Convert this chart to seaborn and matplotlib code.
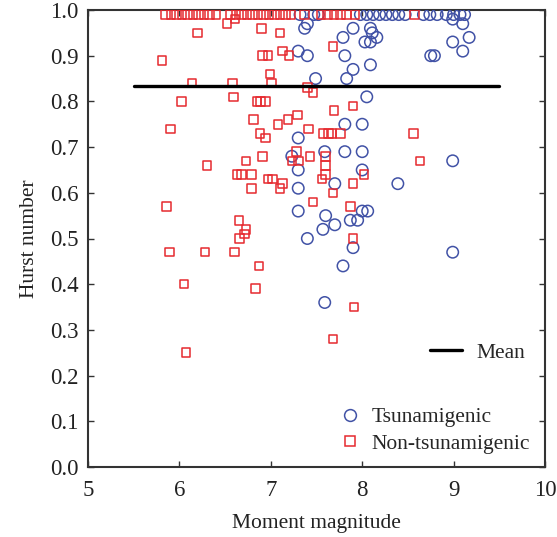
import matplotlib
matplotlib.use("Agg")
import matplotlib.pyplot as plt
import seaborn as sns
import pandas as pd
from matplotlib.lines import Line2D

# ---- data ----
tsu_mag = [7.32, 7.47, 7.52, 7.98, 8.05, 8.12, 8.19, 8.26, 8.33, 8.40, 8.47,
           8.67, 8.74, 8.82, 8.92, 9.00, 9.07, 9.12,
           7.40, 7.37, 7.90, 8.09, 8.11, 7.79, 8.16, 8.03, 8.09, 7.30, 7.40, 7.81,
           7.90, 8.09, 7.83, 7.49, 8.05, 8.99, 9.10, 8.99, 9.17, 9.10, 8.75, 8.79,
           7.81, 8.00, 7.30, 7.59, 7.81, 8.00, 7.23, 8.99, 8.00, 7.30, 7.70, 8.39,
           7.30, 7.30, 7.60, 7.70, 7.87, 7.95, 8.00, 8.06, 7.57, 7.40, 7.90, 8.99,
           7.79, 7.59]
tsu_hurst = [0.99] * 18 + [
           0.97, 0.96, 0.96, 0.96, 0.95, 0.94, 0.94, 0.93, 0.93, 0.91, 0.90, 0.90,
           0.87, 0.88, 0.85, 0.85, 0.81, 0.98, 0.97, 0.93, 0.94, 0.91, 0.90, 0.90,
           0.75, 0.75, 0.72, 0.69, 0.69, 0.69, 0.68, 0.67, 0.65, 0.65, 0.62, 0.62,
           0.61, 0.56, 0.55, 0.53, 0.54, 0.54, 0.56, 0.56, 0.52, 0.50, 0.48, 0.47,
           0.44, 0.36]

non_mag = [5.85, 5.91, 5.97, 6.03, 6.09, 6.15, 6.21, 6.27, 6.33, 6.40,
           6.56, 6.62, 6.68, 6.74, 6.80, 6.86, 6.92, 6.98, 7.04, 7.10, 7.16, 7.22,
           7.37, 7.55, 7.62, 7.69, 7.76, 7.83, 7.92, 8.57,
           5.81, 6.20, 6.52, 6.61, 6.90, 7.10, 6.91, 6.97, 7.13, 7.20, 6.14, 6.58,
           6.99, 7.01, 7.40, 7.46, 6.02, 6.59, 6.85, 6.89, 6.94, 7.69, 7.90, 5.90,
           6.81, 7.08, 7.19, 7.29, 6.88, 6.94, 7.41, 7.57, 7.63, 7.67, 7.76, 8.56,
           7.68, 6.73, 6.91, 7.28, 7.43, 7.60, 7.23, 7.30, 8.63, 6.30, 7.60, 7.60,
           7.56, 6.63, 6.68, 6.79, 6.97, 7.02, 8.02, 6.79, 7.10, 7.13, 7.90, 7.68,
           7.46, 5.86, 7.87, 6.65, 6.73, 6.71, 6.66, 7.90, 5.89, 6.28, 6.60, 6.87,
           6.05, 6.83, 7.91, 7.68, 6.07]
non_hurst = [0.99] * 30 + [
           0.89, 0.95, 0.97, 0.98, 0.96, 0.95, 0.90, 0.90, 0.91, 0.90, 0.84, 0.84,
           0.86, 0.84, 0.83, 0.82, 0.80, 0.81, 0.80, 0.80, 0.80, 0.78, 0.79, 0.74,
           0.76, 0.75, 0.76, 0.77, 0.73, 0.72, 0.74, 0.73, 0.73, 0.73, 0.73, 0.73,
           0.92, 0.67, 0.68, 0.69, 0.68, 0.68, 0.67, 0.67, 0.67, 0.66, 0.66, 0.64,
           0.63, 0.64, 0.64, 0.64, 0.63, 0.63, 0.64, 0.61, 0.61, 0.62, 0.62, 0.60,
           0.58, 0.57, 0.57, 0.54, 0.52, 0.51, 0.50, 0.50, 0.47, 0.47, 0.47, 0.44,
           0.40, 0.39, 0.35, 0.28, 0.25]

mean_x = [5.5, 9.5]
mean_hurst = 0.833

x_ticks = [5, 6, 7, 8, 9, 10]
y_ticks = [0.0, 0.1, 0.2, 0.3, 0.4, 0.5, 0.6, 0.7, 0.8, 0.9, 1.0]

# ---- style ----
sns.set_style("ticks")
plt.rcParams["font.family"] = ["Liberation Serif", "DejaVu Serif"]
plt.rcParams["xtick.direction"] = "in"
plt.rcParams["ytick.direction"] = "in"

BLUE = "#4152a6"
RED = "#e62a2f"
TXT = "#222222"

fig = plt.figure(figsize=(5.57, 5.37), dpi=100)
ax = fig.add_axes([88 / 557, 1 - 467 / 537, 457 / 557, 457 / 537])

df_t = pd.DataFrame({"mag": tsu_mag, "hurst": tsu_hurst})
df_n = pd.DataFrame({"mag": non_mag, "hurst": non_hurst})

sns.scatterplot(data=df_t, x="mag", y="hurst", ax=ax, marker="o", s=68,
                color=BLUE, facecolors="none", edgecolor=BLUE, linewidth=1.1,
                zorder=3)
sns.scatterplot(data=df_n, x="mag", y="hurst", ax=ax, marker="s", s=38,
                color=RED, facecolors="none", edgecolor=RED, linewidth=1.1,
                zorder=3)
sns.lineplot(x=mean_x, y=[mean_hurst] * len(mean_x), ax=ax, color="black",
             linewidth=2.4, zorder=4)

ax.set_xlim(5, 10)
ax.set_ylim(0, 1)
ax.set_xticks(x_ticks)
ax.set_xticklabels([str(t) for t in x_ticks])
ax.set_yticks(y_ticks)
ax.set_yticklabels([f"{t:.1f}" for t in y_ticks])
ax.tick_params(axis="both", which="both", top=True, right=True, length=4,
               width=1.0, colors="#333333", labelsize=16.5, labelcolor=TXT)
ax.tick_params(axis="x", pad=9)
ax.tick_params(axis="y", pad=7)
for s in ax.spines.values():
    s.set_linewidth(1.5)
    s.set_color("#333333")
    s.set_visible(True)

ax.set_xlabel("Moment magnitude", fontsize=15.5, color=TXT, labelpad=10)
ax.set_ylabel("Hurst number", fontsize=15.5, color=TXT, labelpad=8)

h_mean = [Line2D([0], [0], color="black", linewidth=2.4)]
leg1 = ax.legend(h_mean, ["Mean"], loc="center left",
                 bbox_to_anchor=(0.748, 0.25), frameon=False, fontsize=15.5,
                 handlelength=1.5, handletextpad=0.65, borderpad=0,
                 borderaxespad=0)
ax.add_artist(leg1)
h_pts = [Line2D([0], [0], marker="o", linestyle="none", markersize=8.5,
                markerfacecolor="none", markeredgecolor=BLUE, markeredgewidth=1.1),
         Line2D([0], [0], marker="s", linestyle="none", markersize=6.5,
                markerfacecolor="none", markeredgecolor=RED, markeredgewidth=1.1)]
ax.legend(h_pts, ["Tsunamigenic", "Non-tsunamigenic"], loc="center left",
          bbox_to_anchor=(0.55, 0.08), frameon=False, fontsize=15.5,
          handlelength=1.0, handletextpad=0.5, borderpad=0, borderaxespad=0,
          labelspacing=0.3)

fig.savefig("out.png", dpi=100)
